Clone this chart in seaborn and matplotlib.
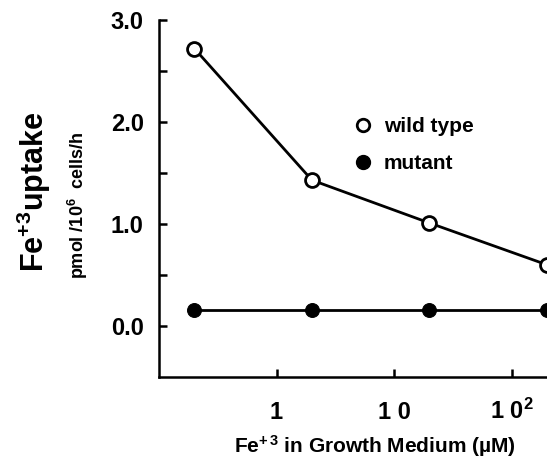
import matplotlib
matplotlib.use("Agg")
import matplotlib.pyplot as plt
from matplotlib.lines import Line2D
import seaborn as sns
import pandas as pd

# Data
fe_conc = [0.2, 2, 20, 200]
wild_type = [2.72, 1.43, 1.01, 0.60]
mutant = [0.16, 0.16, 0.16, 0.16]
x_ticks = [1, 10, 100]
x_ticklabels = ["1", "1 0", "1 0$^{2}$"]
y_ticks = [0.0, 0.5, 1.0, 1.5, 2.0, 2.5, 3.0]
y_ticklabels = ["0.0", "", "1.0", "", "2.0", "", "3.0"]

sns.set_theme(style="ticks")
plt.rcParams["font.family"] = ["Liberation Sans", "DejaVu Sans"]
plt.rcParams["font.weight"] = "bold"
plt.rcParams["text.color"] = "black"
plt.rcParams["axes.labelcolor"] = "black"
plt.rcParams["mathtext.fontset"] = "custom"
plt.rcParams["mathtext.rm"] = "Liberation Sans:bold"
plt.rcParams["mathtext.bf"] = "Liberation Sans:bold"
plt.rcParams["mathtext.it"] = "Liberation Sans:bold"
plt.rcParams["mathtext.sf"] = "Liberation Sans:bold"
plt.rcParams["mathtext.default"] = "rm"

df = pd.DataFrame({
    "conc": fe_conc * 2,
    "uptake": wild_type + mutant,
    "strain": ["wild type"] * len(fe_conc) + ["mutant"] * len(fe_conc),
})

fig = plt.figure(figsize=(5.47, 4.61), dpi=100)
ax = fig.add_axes([159 / 547, 1 - 377 / 461, 1 - 159 / 547, (377 - 20) / 461])

sns.lineplot(data=df[df.strain == "wild type"], x="conc", y="uptake", ax=ax,
             color="black", linewidth=2, marker="o", markersize=10,
             markerfacecolor="white", markeredgecolor="black", markeredgewidth=2,
             clip_on=False, zorder=3)
sns.lineplot(data=df[df.strain == "mutant"], x="conc", y="uptake", ax=ax,
             color="black", linewidth=2, marker="o", markersize=10,
             markerfacecolor="black", markeredgecolor="black",
             clip_on=False, zorder=3)

ax.set_xscale("log")
ax.set_xlim(0.1, 200)
ax.set_ylim(-0.5, 3.0)
ax.set_xticks(x_ticks)
ax.xaxis.set_minor_locator(matplotlib.ticker.NullLocator())
ax.set_yticks(y_ticks)

for s in ["top", "right"]:
    ax.spines[s].set_visible(False)
for s in ["left", "bottom"]:
    ax.spines[s].set_linewidth(1.8)
    ax.spines[s].set_color("black")

ax.tick_params(axis="both", direction="in", length=6, width=1.8, color="black",
               labelcolor="black")
ax.tick_params(axis="y", pad=11)
ax.tick_params(axis="x", pad=30)
ax.set_xticklabels(x_ticklabels, va="baseline", fontweight="bold",
                   fontfamily="Liberation Sans", fontsize=17)
ax.set_yticklabels(y_ticklabels, fontweight="bold",
                   fontfamily="Liberation Sans", fontsize=17)

ax.set_xlabel("")
ax.set_ylabel("")

# Axis titles
fig.text(375 / 547, 1 - 446 / 461, "Fe$^{+\\,3}$ in Growth Medium (\u00b5M)",
         ha="center", va="center", fontsize=15, fontweight="bold")
fig.text(34 / 547, 1 - 192 / 461, "Fe$^{+3}$uptake",
         rotation=90, ha="center", va="center", fontsize=22, fontweight="bold")
fig.text(78 / 547, 1 - 205 / 461, "pmol /10$^{6}$  cells/h",
         rotation=90, ha="center", va="center", fontsize=13, fontweight="bold")

handles = [
    Line2D([], [], linestyle="none", marker="o", markersize=9,
           markerfacecolor="white", markeredgecolor="black", markeredgewidth=2),
    Line2D([], [], linestyle="none", marker="o", markersize=10,
           markerfacecolor="black", markeredgecolor="black"),
]
leg = ax.legend(handles, ["wild type", "mutant"], frameon=False,
                loc="upper left", bbox_to_anchor=((344 - 159) / 388, 1 - (109 - 20) / 357),
                prop={"weight": "bold", "size": 15}, labelspacing=0.85,
                handletextpad=0.5, handlelength=1.0, borderaxespad=0)

fig.savefig("out.png", dpi=100, facecolor="white")
